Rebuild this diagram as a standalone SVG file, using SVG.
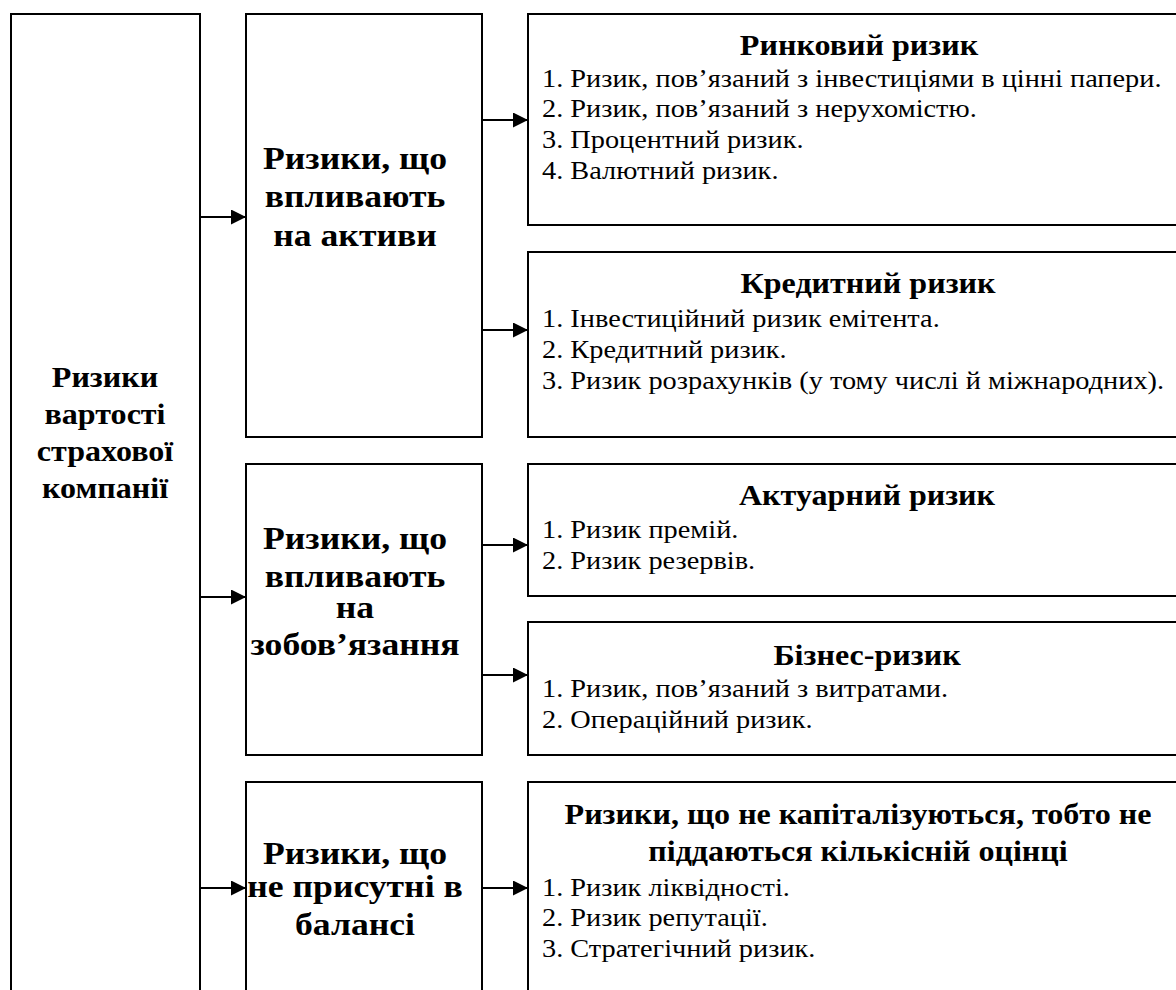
<svg xmlns="http://www.w3.org/2000/svg" width="1176" height="990" viewBox="0 0 1176 990">
<style>
.box{fill:#fff;stroke:#000;stroke-width:2}
.con{stroke:#000;stroke-width:2;fill:none}
.l{font-family:"Liberation Serif","Times New Roman",serif;font-weight:bold;font-size:30px;text-anchor:middle;fill:#000}
.m{font-family:"Liberation Serif","Times New Roman",serif;font-weight:bold;font-size:31px;text-anchor:middle;fill:#000}
.t{font-family:"Liberation Serif","Times New Roman",serif;font-weight:bold;font-size:30px;text-anchor:middle;fill:#000}
.i{font-family:"Liberation Serif","Times New Roman",serif;font-size:26px;fill:#000}
</style>
<defs>
<marker id="ah" markerWidth="15" markerHeight="15" refX="15" refY="7.5" orient="auto" markerUnits="userSpaceOnUse">
<path d="M0,0 L15,7.5 L0,15 Z" fill="#000"/>
</marker>
</defs>
<rect width="1176" height="990" fill="#fff"/>
<g id="root">
<rect class="box" x="11" y="14" width="189" height="1000"/>
<g transform="translate(105 0) scale(1.07 1)">
<text class="l" x="0" y="387">Ризики</text>
<text class="l" x="0" y="424">вартості</text>
<text class="l" x="0" y="461">страхової</text>
<text class="l" x="0" y="498">компанії</text>
</g>
</g>
<g id="assets">
<rect class="box" x="246" y="14" width="236" height="423"/>
<g transform="translate(355 0) scale(1.15 1)">
<text class="m" x="0" y="169">Ризики, що</text>
<text class="m" x="0" y="207">впливають</text>
<text class="m" x="0" y="246">на активи</text>
</g>
</g>
<g id="liabilities">
<rect class="box" x="246" y="464" width="236" height="291"/>
<g transform="translate(355 0) scale(1.15 1)">
<text class="m" x="0" y="549">Ризики, що</text>
<text class="m" x="0" y="587">впливають</text>
<text class="m" x="0" y="618">на</text>
<text class="m" x="0" y="655">зобов’язання</text>
</g>
</g>
<g id="offbalance">
<rect class="box" x="246" y="782" width="236" height="300"/>
<g transform="translate(355 0) scale(1.15 1)">
<text class="m" x="0" y="864">Ризики, що</text>
<text class="m" x="0" y="897">не присутні в</text>
<text class="m" x="0" y="935">балансі</text>
</g>
</g>
<g id="market">
<rect class="box" x="528" y="14" width="680" height="211"/>
<g transform="translate(859 0) scale(1.07 1)"><text class="t" x="0" y="55">Ринковий ризик</text></g>
<g transform="translate(542 0) scale(1.09 1)">
<text class="i" x="0" y="87">1. Ризик, пов’язаний з інвестиціями в цінні папери.</text>
<text class="i" x="0" y="117">2. Ризик, пов’язаний з нерухомістю.</text>
<text class="i" x="0" y="148">3. Процентний ризик.</text>
<text class="i" x="0" y="179">4. Валютний ризик.</text>
</g>
</g>
<g id="credit">
<rect class="box" x="528" y="252" width="680" height="185"/>
<g transform="translate(868 0) scale(1.07 1)"><text class="t" x="0" y="293">Кредитний ризик</text></g>
<g transform="translate(542 0) scale(1.09 1)">
<text class="i" x="0" y="327">1. Інвестиційний ризик емітента.</text>
<text class="i" x="0" y="358">2. Кредитний ризик.</text>
<text class="i" x="0" y="389">3. Ризик розрахунків (у тому числі й міжнародних).</text>
</g>
</g>
<g id="actuarial">
<rect class="box" x="528" y="464" width="680" height="132"/>
<g transform="translate(867 0) scale(1.07 1)"><text class="t" x="0" y="505">Актуарний ризик</text></g>
<g transform="translate(542 0) scale(1.09 1)">
<text class="i" x="0" y="538">1. Ризик премій.</text>
<text class="i" x="0" y="569">2. Ризик резервів.</text>
</g>
</g>
<g id="business">
<rect class="box" x="528" y="622" width="680" height="133"/>
<g transform="translate(867 0) scale(1.07 1)"><text class="t" x="0" y="665">Бізнес-ризик</text></g>
<g transform="translate(542 0) scale(1.09 1)">
<text class="i" x="0" y="697">1. Ризик, пов’язаний з витратами.</text>
<text class="i" x="0" y="728">2. Операційний ризик.</text>
</g>
</g>
<g id="noncap">
<rect class="box" x="528" y="782" width="680" height="300"/>
<g transform="translate(858 0) scale(1.07 1)">
<text class="t" x="0" y="824">Ризики, що не капіталізуються, тобто не</text>
<text class="t" x="0" y="861">піддаються кількісній оцінці</text>
</g>
<g transform="translate(542 0) scale(1.09 1)">
<text class="i" x="0" y="896">1. Ризик ліквідності.</text>
<text class="i" x="0" y="926">2. Ризик репутації.</text>
<text class="i" x="0" y="957">3. Стратегічний ризик.</text>
</g>
</g>
<g id="connectors">
<line class="con" x1="200" y1="217" x2="246" y2="217" marker-end="url(#ah)"/>
<line class="con" x1="200" y1="597" x2="246" y2="597" marker-end="url(#ah)"/>
<line class="con" x1="200" y1="888" x2="246" y2="888" marker-end="url(#ah)"/>
<line class="con" x1="482" y1="120" x2="528" y2="120" marker-end="url(#ah)"/>
<line class="con" x1="482" y1="330" x2="528" y2="330" marker-end="url(#ah)"/>
<line class="con" x1="482" y1="545" x2="528" y2="545" marker-end="url(#ah)"/>
<line class="con" x1="482" y1="675" x2="528" y2="675" marker-end="url(#ah)"/>
<line class="con" x1="482" y1="888" x2="528" y2="888" marker-end="url(#ah)"/>
</g>
</svg>
